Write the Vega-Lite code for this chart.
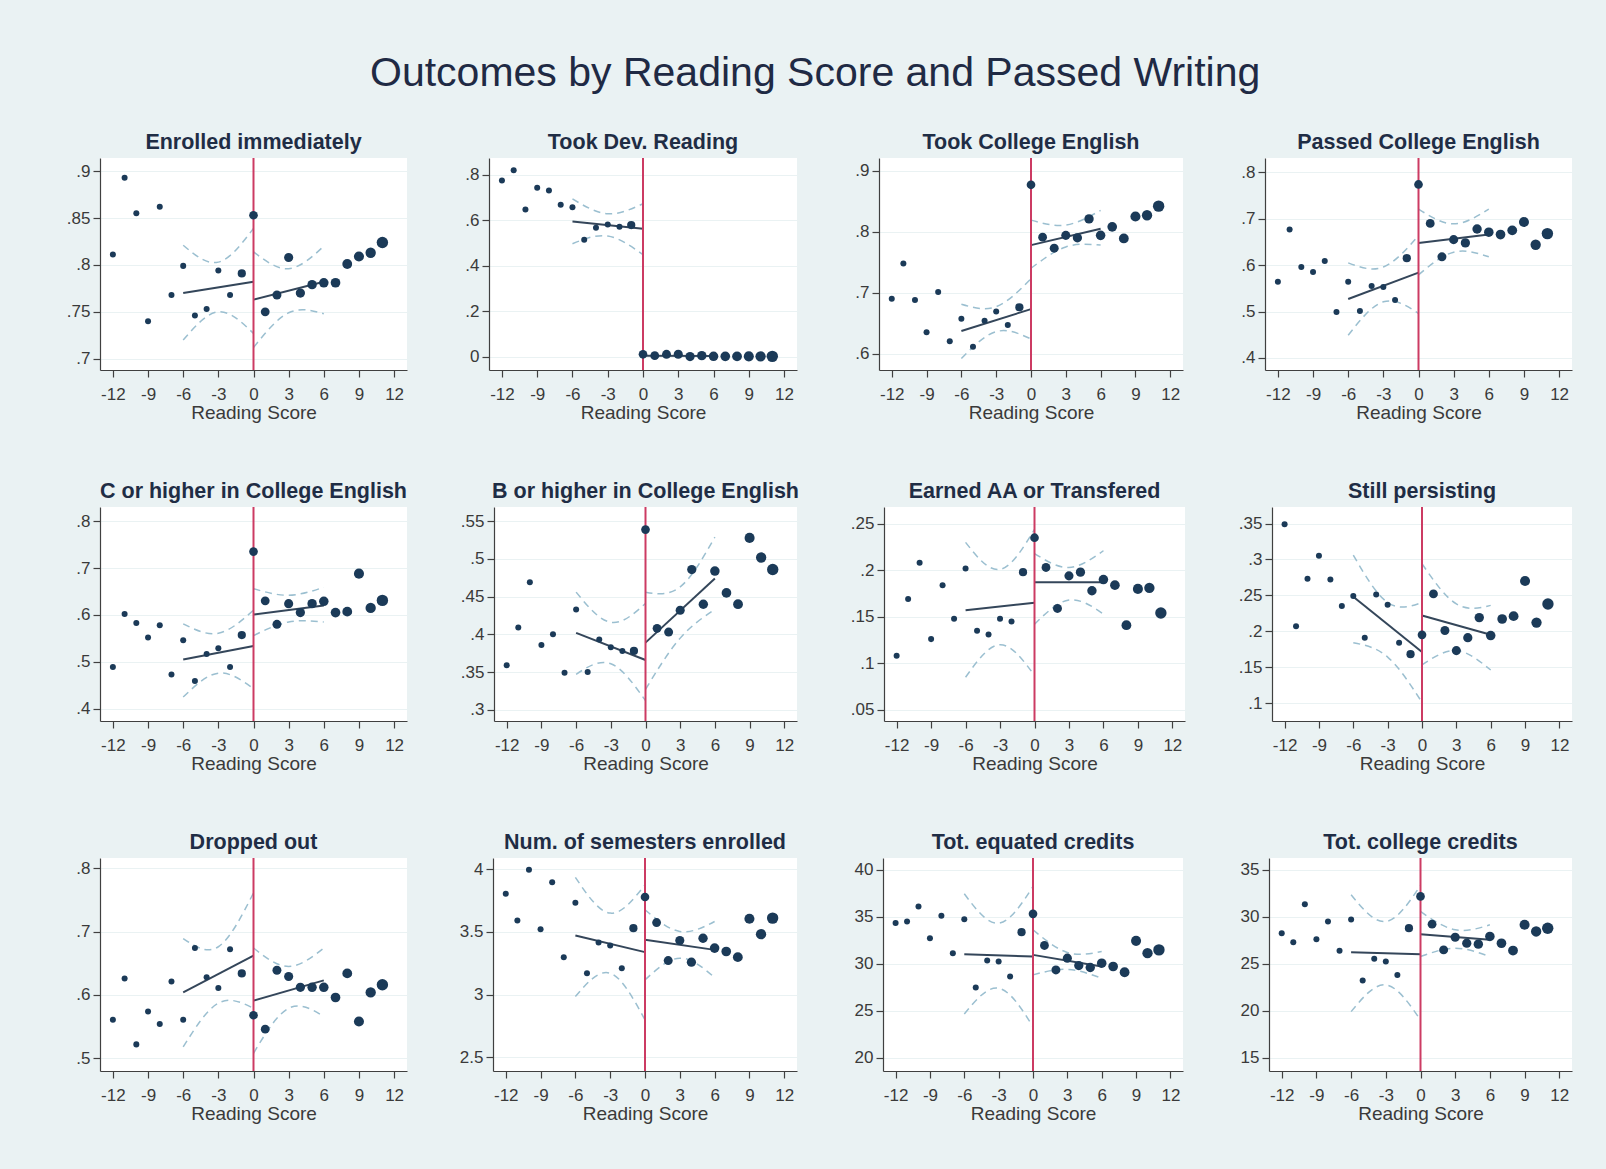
{
"$schema": "https://vega.github.io/schema/vega-lite/v6.json",
"background": "#eaf2f3",
"padding": {"left": 66, "top": 52, "right": 34, "bottom": 46},
"autosize": {"type": "pad"},
"title": {"text": "Outcomes by Reading Score and Passed Writing", "fontSize": 41, "fontWeight": "normal", "color": "#1f2a44", "frame": "bounds", "anchor": "middle", "baseline": "top", "offset": 37, "dx": -4},
"datasets": {
"points": [
{"p":1,"x":-12,"y":0.811,"n":1},{"p":1,"x":-11,"y":0.893,"n":1},{"p":1,"x":-10,"y":0.855,"n":1},{"p":1,"x":-9,"y":0.740,"n":1},{"p":1,"x":-8,"y":0.862,"n":1},{"p":1,"x":-7,"y":0.768,"n":1},{"p":1,"x":-6,"y":0.799,"n":1},{"p":1,"x":-5,"y":0.746,"n":1},{"p":1,"x":-4,"y":0.753,"n":1},{"p":1,"x":-3,"y":0.794,"n":1},{"p":1,"x":-2,"y":0.768,"n":1},{"p":1,"x":-1,"y":0.791,"n":2.2},{"p":1,"x":0,"y":0.853,"n":2.5},{"p":1,"x":1,"y":0.750,"n":2.6},{"p":1,"x":2,"y":0.768,"n":2.7},{"p":1,"x":3,"y":0.808,"n":2.8},{"p":1,"x":4,"y":0.770,"n":2.9},{"p":1,"x":5,"y":0.779,"n":3.0},{"p":1,"x":6,"y":0.781,"n":3.1},{"p":1,"x":7,"y":0.781,"n":3.2},{"p":1,"x":8,"y":0.801,"n":3.3},{"p":1,"x":9,"y":0.809,"n":3.5},{"p":1,"x":10,"y":0.813,"n":3.7},{"p":1,"x":11,"y":0.824,"n":4.6},
{"p":2,"x":-12,"y":0.774,"n":1},{"p":2,"x":-11,"y":0.819,"n":1},{"p":2,"x":-10,"y":0.647,"n":1},{"p":2,"x":-9,"y":0.742,"n":1},{"p":2,"x":-8,"y":0.730,"n":1},{"p":2,"x":-7,"y":0.667,"n":1},{"p":2,"x":-6,"y":0.657,"n":1},{"p":2,"x":-5,"y":0.514,"n":1},{"p":2,"x":-4,"y":0.566,"n":1},{"p":2,"x":-3,"y":0.581,"n":1},{"p":2,"x":-2,"y":0.571,"n":1},{"p":2,"x":-1,"y":0.578,"n":2.2},{"p":2,"x":0,"y":0.010,"n":2.5},{"p":2,"x":1,"y":0.004,"n":2.6},{"p":2,"x":2,"y":0.010,"n":2.7},{"p":2,"x":3,"y":0.010,"n":2.8},{"p":2,"x":4,"y":0.000,"n":2.9},{"p":2,"x":5,"y":0.004,"n":3.0},{"p":2,"x":6,"y":0.001,"n":3.1},{"p":2,"x":7,"y":0.001,"n":3.2},{"p":2,"x":8,"y":0.001,"n":3.3},{"p":2,"x":9,"y":0.001,"n":3.5},{"p":2,"x":10,"y":0.001,"n":3.7},{"p":2,"x":11,"y":0.001,"n":4.6},
{"p":3,"x":-12,"y":0.690,"n":1},{"p":3,"x":-11,"y":0.748,"n":1},{"p":3,"x":-10,"y":0.688,"n":1},{"p":3,"x":-9,"y":0.635,"n":1},{"p":3,"x":-8,"y":0.701,"n":1},{"p":3,"x":-7,"y":0.620,"n":1},{"p":3,"x":-6,"y":0.657,"n":1},{"p":3,"x":-5,"y":0.611,"n":1},{"p":3,"x":-4,"y":0.654,"n":1},{"p":3,"x":-3,"y":0.669,"n":1},{"p":3,"x":-2,"y":0.647,"n":1},{"p":3,"x":-1,"y":0.676,"n":2.2},{"p":3,"x":0,"y":0.877,"n":2.5},{"p":3,"x":1,"y":0.791,"n":2.6},{"p":3,"x":2,"y":0.773,"n":2.7},{"p":3,"x":3,"y":0.794,"n":2.8},{"p":3,"x":4,"y":0.790,"n":2.9},{"p":3,"x":5,"y":0.821,"n":3.0},{"p":3,"x":6,"y":0.794,"n":3.1},{"p":3,"x":7,"y":0.808,"n":3.2},{"p":3,"x":8,"y":0.789,"n":3.3},{"p":3,"x":9,"y":0.825,"n":3.5},{"p":3,"x":10,"y":0.827,"n":3.7},{"p":3,"x":11,"y":0.842,"n":4.6},
{"p":4,"x":-12,"y":0.564,"n":1},{"p":4,"x":-11,"y":0.677,"n":1},{"p":4,"x":-10,"y":0.596,"n":1},{"p":4,"x":-9,"y":0.585,"n":1},{"p":4,"x":-8,"y":0.609,"n":1},{"p":4,"x":-7,"y":0.499,"n":1},{"p":4,"x":-6,"y":0.564,"n":1},{"p":4,"x":-5,"y":0.501,"n":1},{"p":4,"x":-4,"y":0.555,"n":1},{"p":4,"x":-3,"y":0.553,"n":1},{"p":4,"x":-2,"y":0.525,"n":1},{"p":4,"x":-1,"y":0.615,"n":2.2},{"p":4,"x":0,"y":0.774,"n":2.5},{"p":4,"x":1,"y":0.690,"n":2.6},{"p":4,"x":2,"y":0.618,"n":2.7},{"p":4,"x":3,"y":0.655,"n":2.8},{"p":4,"x":4,"y":0.648,"n":2.9},{"p":4,"x":5,"y":0.678,"n":3.0},{"p":4,"x":6,"y":0.671,"n":3.1},{"p":4,"x":7,"y":0.666,"n":3.2},{"p":4,"x":8,"y":0.675,"n":3.3},{"p":4,"x":9,"y":0.693,"n":3.5},{"p":4,"x":10,"y":0.644,"n":3.7},{"p":4,"x":11,"y":0.668,"n":4.6},
{"p":5,"x":-12,"y":0.489,"n":1},{"p":5,"x":-11,"y":0.602,"n":1},{"p":5,"x":-10,"y":0.583,"n":1},{"p":5,"x":-9,"y":0.552,"n":1},{"p":5,"x":-8,"y":0.578,"n":1},{"p":5,"x":-7,"y":0.473,"n":1},{"p":5,"x":-6,"y":0.546,"n":1},{"p":5,"x":-5,"y":0.459,"n":1},{"p":5,"x":-4,"y":0.517,"n":1},{"p":5,"x":-3,"y":0.529,"n":1},{"p":5,"x":-2,"y":0.489,"n":1},{"p":5,"x":-1,"y":0.557,"n":2.2},{"p":5,"x":0,"y":0.735,"n":2.5},{"p":5,"x":1,"y":0.630,"n":2.6},{"p":5,"x":2,"y":0.580,"n":2.7},{"p":5,"x":3,"y":0.624,"n":2.8},{"p":5,"x":4,"y":0.605,"n":2.9},{"p":5,"x":5,"y":0.624,"n":3.0},{"p":5,"x":6,"y":0.629,"n":3.1},{"p":5,"x":7,"y":0.605,"n":3.2},{"p":5,"x":8,"y":0.607,"n":3.3},{"p":5,"x":9,"y":0.688,"n":3.5},{"p":5,"x":10,"y":0.615,"n":3.7},{"p":5,"x":11,"y":0.631,"n":4.6},
{"p":6,"x":-12,"y":0.359,"n":1},{"p":6,"x":-11,"y":0.409,"n":1},{"p":6,"x":-10,"y":0.469,"n":1},{"p":6,"x":-9,"y":0.386,"n":1},{"p":6,"x":-8,"y":0.400,"n":1},{"p":6,"x":-7,"y":0.349,"n":1},{"p":6,"x":-6,"y":0.433,"n":1},{"p":6,"x":-5,"y":0.350,"n":1},{"p":6,"x":-4,"y":0.393,"n":1},{"p":6,"x":-3,"y":0.383,"n":1},{"p":6,"x":-2,"y":0.378,"n":1},{"p":6,"x":-1,"y":0.378,"n":2.2},{"p":6,"x":0,"y":0.539,"n":2.5},{"p":6,"x":1,"y":0.408,"n":2.6},{"p":6,"x":2,"y":0.403,"n":2.7},{"p":6,"x":3,"y":0.432,"n":2.8},{"p":6,"x":4,"y":0.486,"n":2.9},{"p":6,"x":5,"y":0.440,"n":3.0},{"p":6,"x":6,"y":0.484,"n":3.1},{"p":6,"x":7,"y":0.455,"n":3.2},{"p":6,"x":8,"y":0.440,"n":3.3},{"p":6,"x":9,"y":0.528,"n":3.5},{"p":6,"x":10,"y":0.502,"n":3.7},{"p":6,"x":11,"y":0.486,"n":4.6},
{"p":7,"x":-12,"y":0.108,"n":1},{"p":7,"x":-11,"y":0.169,"n":1},{"p":7,"x":-10,"y":0.208,"n":1},{"p":7,"x":-9,"y":0.126,"n":1},{"p":7,"x":-8,"y":0.184,"n":1},{"p":7,"x":-7,"y":0.148,"n":1},{"p":7,"x":-6,"y":0.202,"n":1},{"p":7,"x":-5,"y":0.135,"n":1},{"p":7,"x":-4,"y":0.131,"n":1},{"p":7,"x":-3,"y":0.148,"n":1},{"p":7,"x":-2,"y":0.145,"n":1},{"p":7,"x":-1,"y":0.198,"n":2.2},{"p":7,"x":0,"y":0.235,"n":2.5},{"p":7,"x":1,"y":0.203,"n":2.6},{"p":7,"x":2,"y":0.159,"n":2.7},{"p":7,"x":3,"y":0.194,"n":2.8},{"p":7,"x":4,"y":0.198,"n":2.9},{"p":7,"x":5,"y":0.178,"n":3.0},{"p":7,"x":6,"y":0.190,"n":3.1},{"p":7,"x":7,"y":0.184,"n":3.2},{"p":7,"x":8,"y":0.141,"n":3.3},{"p":7,"x":9,"y":0.180,"n":3.5},{"p":7,"x":10,"y":0.181,"n":3.7},{"p":7,"x":11,"y":0.154,"n":4.6},
{"p":8,"x":-12,"y":0.349,"n":1},{"p":8,"x":-11,"y":0.207,"n":1},{"p":8,"x":-10,"y":0.273,"n":1},{"p":8,"x":-9,"y":0.305,"n":1},{"p":8,"x":-8,"y":0.272,"n":1},{"p":8,"x":-7,"y":0.235,"n":1},{"p":8,"x":-6,"y":0.249,"n":1},{"p":8,"x":-5,"y":0.191,"n":1},{"p":8,"x":-4,"y":0.251,"n":1},{"p":8,"x":-3,"y":0.237,"n":1},{"p":8,"x":-2,"y":0.184,"n":1},{"p":8,"x":-1,"y":0.168,"n":2.2},{"p":8,"x":0,"y":0.195,"n":2.5},{"p":8,"x":1,"y":0.252,"n":2.6},{"p":8,"x":2,"y":0.201,"n":2.7},{"p":8,"x":3,"y":0.173,"n":2.8},{"p":8,"x":4,"y":0.191,"n":2.9},{"p":8,"x":5,"y":0.219,"n":3.0},{"p":8,"x":6,"y":0.194,"n":3.1},{"p":8,"x":7,"y":0.217,"n":3.2},{"p":8,"x":8,"y":0.221,"n":3.3},{"p":8,"x":9,"y":0.270,"n":3.5},{"p":8,"x":10,"y":0.212,"n":3.7},{"p":8,"x":11,"y":0.238,"n":4.6},
{"p":9,"x":-12,"y":0.561,"n":1},{"p":9,"x":-11,"y":0.626,"n":1},{"p":9,"x":-10,"y":0.522,"n":1},{"p":9,"x":-9,"y":0.574,"n":1},{"p":9,"x":-8,"y":0.554,"n":1},{"p":9,"x":-7,"y":0.621,"n":1},{"p":9,"x":-6,"y":0.561,"n":1},{"p":9,"x":-5,"y":0.674,"n":1},{"p":9,"x":-4,"y":0.628,"n":1},{"p":9,"x":-3,"y":0.611,"n":1},{"p":9,"x":-2,"y":0.672,"n":1},{"p":9,"x":-1,"y":0.634,"n":2.2},{"p":9,"x":0,"y":0.568,"n":2.5},{"p":9,"x":1,"y":0.546,"n":2.6},{"p":9,"x":2,"y":0.639,"n":2.7},{"p":9,"x":3,"y":0.629,"n":2.8},{"p":9,"x":4,"y":0.612,"n":2.9},{"p":9,"x":5,"y":0.612,"n":3.0},{"p":9,"x":6,"y":0.612,"n":3.1},{"p":9,"x":7,"y":0.596,"n":3.2},{"p":9,"x":8,"y":0.634,"n":3.3},{"p":9,"x":9,"y":0.558,"n":3.5},{"p":9,"x":10,"y":0.604,"n":3.7},{"p":9,"x":11,"y":0.616,"n":4.6},
{"p":10,"x":-12,"y":3.803,"n":1},{"p":10,"x":-11,"y":3.590,"n":1},{"p":10,"x":-10,"y":3.995,"n":1},{"p":10,"x":-9,"y":3.521,"n":1},{"p":10,"x":-8,"y":3.894,"n":1},{"p":10,"x":-7,"y":3.298,"n":1},{"p":10,"x":-6,"y":3.731,"n":1},{"p":10,"x":-5,"y":3.170,"n":1},{"p":10,"x":-4,"y":3.415,"n":1},{"p":10,"x":-3,"y":3.391,"n":1},{"p":10,"x":-2,"y":3.210,"n":1},{"p":10,"x":-1,"y":3.529,"n":2.2},{"p":10,"x":0,"y":3.777,"n":2.5},{"p":10,"x":1,"y":3.574,"n":2.6},{"p":10,"x":2,"y":3.271,"n":2.7},{"p":10,"x":3,"y":3.431,"n":2.8},{"p":10,"x":4,"y":3.258,"n":2.9},{"p":10,"x":5,"y":3.449,"n":3.0},{"p":10,"x":6,"y":3.370,"n":3.1},{"p":10,"x":7,"y":3.343,"n":3.2},{"p":10,"x":8,"y":3.298,"n":3.3},{"p":10,"x":9,"y":3.604,"n":3.5},{"p":10,"x":10,"y":3.481,"n":3.7},{"p":10,"x":11,"y":3.609,"n":4.6},
{"p":11,"x":-12,"y":34.32,"n":1},{"p":11,"x":-11,"y":34.49,"n":1},{"p":11,"x":-10,"y":36.09,"n":1},{"p":11,"x":-9,"y":32.72,"n":1},{"p":11,"x":-8,"y":35.10,"n":1},{"p":11,"x":-7,"y":31.12,"n":1},{"p":11,"x":-6,"y":34.74,"n":1},{"p":11,"x":-5,"y":27.46,"n":1},{"p":11,"x":-4,"y":30.34,"n":1},{"p":11,"x":-3,"y":30.23,"n":1},{"p":11,"x":-2,"y":28.63,"n":1},{"p":11,"x":-1,"y":33.36,"n":2.2},{"p":11,"x":0,"y":35.31,"n":2.5},{"p":11,"x":1,"y":31.94,"n":2.6},{"p":11,"x":2,"y":29.34,"n":2.7},{"p":11,"x":3,"y":30.59,"n":2.8},{"p":11,"x":4,"y":29.80,"n":2.9},{"p":11,"x":5,"y":29.59,"n":3.0},{"p":11,"x":6,"y":30.05,"n":3.1},{"p":11,"x":7,"y":29.70,"n":3.2},{"p":11,"x":8,"y":29.09,"n":3.3},{"p":11,"x":9,"y":32.43,"n":3.5},{"p":11,"x":10,"y":31.12,"n":3.7},{"p":11,"x":11,"y":31.47,"n":4.6},
{"p":12,"x":-12,"y":28.25,"n":1},{"p":12,"x":-11,"y":27.29,"n":1},{"p":12,"x":-10,"y":31.34,"n":1},{"p":12,"x":-9,"y":27.61,"n":1},{"p":12,"x":-8,"y":29.49,"n":1},{"p":12,"x":-7,"y":26.37,"n":1},{"p":12,"x":-6,"y":29.71,"n":1},{"p":12,"x":-5,"y":23.21,"n":1},{"p":12,"x":-4,"y":25.52,"n":1},{"p":12,"x":-3,"y":25.23,"n":1},{"p":12,"x":-2,"y":23.81,"n":1},{"p":12,"x":-1,"y":28.78,"n":2.2},{"p":12,"x":0,"y":32.16,"n":2.5},{"p":12,"x":1,"y":29.21,"n":2.6},{"p":12,"x":2,"y":26.47,"n":2.7},{"p":12,"x":3,"y":27.82,"n":2.8},{"p":12,"x":4,"y":27.18,"n":2.9},{"p":12,"x":5,"y":27.08,"n":3.0},{"p":12,"x":6,"y":27.90,"n":3.1},{"p":12,"x":7,"y":27.18,"n":3.2},{"p":12,"x":8,"y":26.40,"n":3.3},{"p":12,"x":9,"y":29.14,"n":3.5},{"p":12,"x":10,"y":28.43,"n":3.7},{"p":12,"x":11,"y":28.78,"n":4.6}
],
"fits": [
{"p":1,"g":"L","x":-6,"y":0.770},{"p":1,"g":"L","x":0,"y":0.782},{"p":1,"g":"R","x":0,"y":0.763},{"p":1,"g":"R","x":6,"y":0.782},
{"p":2,"g":"L","x":-6,"y":0.594},{"p":2,"g":"L","x":0,"y":0.562},{"p":2,"g":"R","x":0,"y":0.004},{"p":2,"g":"R","x":6,"y":0.003},
{"p":3,"g":"L","x":-6,"y":0.637},{"p":3,"g":"L","x":0,"y":0.673},{"p":3,"g":"R","x":0,"y":0.778},{"p":3,"g":"R","x":6,"y":0.805},
{"p":4,"g":"L","x":-6,"y":0.527},{"p":4,"g":"L","x":0,"y":0.584},{"p":4,"g":"R","x":0,"y":0.648},{"p":4,"g":"R","x":6,"y":0.666},
{"p":5,"g":"L","x":-6,"y":0.505},{"p":5,"g":"L","x":0,"y":0.534},{"p":5,"g":"R","x":0,"y":0.601},{"p":5,"g":"R","x":6,"y":0.620},
{"p":6,"g":"L","x":-6,"y":0.402},{"p":6,"g":"L","x":0,"y":0.366},{"p":6,"g":"R","x":0,"y":0.389},{"p":6,"g":"R","x":6,"y":0.474},
{"p":7,"g":"L","x":-6,"y":0.157},{"p":7,"g":"L","x":0,"y":0.165},{"p":7,"g":"R","x":0,"y":0.187},{"p":7,"g":"R","x":6,"y":0.187},
{"p":8,"g":"L","x":-6,"y":0.248},{"p":8,"g":"L","x":0,"y":0.171},{"p":8,"g":"R","x":0,"y":0.222},{"p":8,"g":"R","x":6,"y":0.195},
{"p":9,"g":"L","x":-6,"y":0.604},{"p":9,"g":"L","x":0,"y":0.662},{"p":9,"g":"R","x":0,"y":0.591},{"p":9,"g":"R","x":6,"y":0.623},
{"p":10,"g":"L","x":-6,"y":3.471},{"p":10,"g":"L","x":0,"y":3.338},{"p":10,"g":"R","x":0,"y":3.436},{"p":10,"g":"R","x":6,"y":3.356},
{"p":11,"g":"L","x":-6,"y":31.01},{"p":11,"g":"L","x":0,"y":30.76},{"p":11,"g":"R","x":0,"y":30.94},{"p":11,"g":"R","x":6,"y":29.70},
{"p":12,"g":"L","x":-6,"y":26.23},{"p":12,"g":"L","x":0,"y":26.01},{"p":12,"g":"R","x":0,"y":28.14},{"p":12,"g":"R","x":6,"y":27.54}
],
"bands": [
{"p":1,"g":"Lhi","x":-6,"y":0.821},{"p":1,"g":"Lhi","x":-3,"y":0.803},{"p":1,"g":"Lhi","x":0,"y":0.839},{"p":1,"g":"Llo","x":-6,"y":0.720},{"p":1,"g":"Llo","x":-3,"y":0.750},{"p":1,"g":"Llo","x":0,"y":0.727},{"p":1,"g":"Rhi","x":0,"y":0.814},{"p":1,"g":"Rhi","x":3,"y":0.796},{"p":1,"g":"Rhi","x":6,"y":0.820},{"p":1,"g":"Rlo","x":0,"y":0.712},{"p":1,"g":"Rlo","x":3,"y":0.749},{"p":1,"g":"Rlo","x":6,"y":0.748},
{"p":2,"g":"Lhi","x":-6,"y":0.693},{"p":2,"g":"Lhi","x":-3,"y":0.628},{"p":2,"g":"Lhi","x":0,"y":0.672},{"p":2,"g":"Llo","x":-6,"y":0.496},{"p":2,"g":"Llo","x":-3,"y":0.530},{"p":2,"g":"Llo","x":0,"y":0.448},
{"p":3,"g":"Lhi","x":-6,"y":0.681},{"p":3,"g":"Lhi","x":-3,"y":0.677},{"p":3,"g":"Lhi","x":0,"y":0.723},{"p":3,"g":"Llo","x":-6,"y":0.592},{"p":3,"g":"Llo","x":-3,"y":0.636},{"p":3,"g":"Llo","x":0,"y":0.624},{"p":3,"g":"Rhi","x":0,"y":0.819},{"p":3,"g":"Rhi","x":3,"y":0.811},{"p":3,"g":"Rhi","x":6,"y":0.835},{"p":3,"g":"Rlo","x":0,"y":0.740},{"p":3,"g":"Rlo","x":3,"y":0.775},{"p":3,"g":"Rlo","x":6,"y":0.778},
{"p":4,"g":"Lhi","x":-6,"y":0.605},{"p":4,"g":"Lhi","x":-3,"y":0.596},{"p":4,"g":"Lhi","x":0,"y":0.664},{"p":4,"g":"Llo","x":-6,"y":0.449},{"p":4,"g":"Llo","x":-3,"y":0.521},{"p":4,"g":"Llo","x":0,"y":0.496},{"p":4,"g":"Rhi","x":0,"y":0.721},{"p":4,"g":"Rhi","x":3,"y":0.689},{"p":4,"g":"Rhi","x":6,"y":0.721},{"p":4,"g":"Rlo","x":0,"y":0.579},{"p":4,"g":"Rlo","x":3,"y":0.628},{"p":4,"g":"Rlo","x":6,"y":0.618},
{"p":5,"g":"Lhi","x":-6,"y":0.581},{"p":5,"g":"Lhi","x":-3,"y":0.561},{"p":5,"g":"Lhi","x":0,"y":0.610},{"p":5,"g":"Llo","x":-6,"y":0.425},{"p":5,"g":"Llo","x":-3,"y":0.476},{"p":5,"g":"Llo","x":0,"y":0.443},{"p":5,"g":"Rhi","x":0,"y":0.656},{"p":5,"g":"Rhi","x":3,"y":0.642},{"p":5,"g":"Rhi","x":6,"y":0.659},{"p":5,"g":"Rlo","x":0,"y":0.556},{"p":5,"g":"Rlo","x":3,"y":0.585},{"p":5,"g":"Rlo","x":6,"y":0.585},
{"p":6,"g":"Lhi","x":-6,"y":0.456},{"p":6,"g":"Lhi","x":-3,"y":0.416},{"p":6,"g":"Lhi","x":0,"y":0.441},{"p":6,"g":"Llo","x":-6,"y":0.347},{"p":6,"g":"Llo","x":-3,"y":0.361},{"p":6,"g":"Llo","x":0,"y":0.312},{"p":6,"g":"Rhi","x":0,"y":0.456},{"p":6,"g":"Rhi","x":3,"y":0.463},{"p":6,"g":"Rhi","x":6,"y":0.529},{"p":6,"g":"Rlo","x":0,"y":0.327},{"p":6,"g":"Rlo","x":3,"y":0.395},{"p":6,"g":"Rlo","x":6,"y":0.433},
{"p":7,"g":"Lhi","x":-6,"y":0.230},{"p":7,"g":"Lhi","x":-3,"y":0.201},{"p":7,"g":"Lhi","x":0,"y":0.244},{"p":7,"g":"Llo","x":-6,"y":0.085},{"p":7,"g":"Llo","x":-3,"y":0.120},{"p":7,"g":"Llo","x":0,"y":0.087},{"p":7,"g":"Rhi","x":0,"y":0.218},{"p":7,"g":"Rhi","x":3,"y":0.203},{"p":7,"g":"Rhi","x":6,"y":0.221},{"p":7,"g":"Rlo","x":0,"y":0.142},{"p":7,"g":"Rlo","x":3,"y":0.168},{"p":7,"g":"Rlo","x":6,"y":0.153},
{"p":8,"g":"Lhi","x":-6,"y":0.306},{"p":8,"g":"Lhi","x":-3,"y":0.240},{"p":8,"g":"Lhi","x":0,"y":0.240},{"p":8,"g":"Llo","x":-6,"y":0.184},{"p":8,"g":"Llo","x":-3,"y":0.164},{"p":8,"g":"Llo","x":0,"y":0.101},{"p":8,"g":"Rhi","x":0,"y":0.294},{"p":8,"g":"Rhi","x":3,"y":0.238},{"p":8,"g":"Rhi","x":6,"y":0.236},{"p":8,"g":"Rlo","x":0,"y":0.153},{"p":8,"g":"Rlo","x":3,"y":0.173},{"p":8,"g":"Rlo","x":6,"y":0.146},
{"p":9,"g":"Lhi","x":-6,"y":0.689},{"p":9,"g":"Lhi","x":-3,"y":0.676},{"p":9,"g":"Lhi","x":0,"y":0.761},{"p":9,"g":"Llo","x":-6,"y":0.518},{"p":9,"g":"Llo","x":-3,"y":0.587},{"p":9,"g":"Llo","x":0,"y":0.579},{"p":9,"g":"Rhi","x":0,"y":0.674},{"p":9,"g":"Rhi","x":3,"y":0.645},{"p":9,"g":"Rhi","x":6,"y":0.674},{"p":9,"g":"Rlo","x":0,"y":0.508},{"p":9,"g":"Rlo","x":3,"y":0.579},{"p":9,"g":"Rlo","x":6,"y":0.566},
{"p":10,"g":"Lhi","x":-6,"y":3.934},{"p":10,"g":"Lhi","x":-3,"y":3.649},{"p":10,"g":"Lhi","x":0,"y":3.875},{"p":10,"g":"Llo","x":-6,"y":2.984},{"p":10,"g":"Llo","x":-3,"y":3.170},{"p":10,"g":"Llo","x":0,"y":2.798},{"p":10,"g":"Rhi","x":0,"y":3.676},{"p":10,"g":"Rhi","x":3,"y":3.503},{"p":10,"g":"Rhi","x":6,"y":3.582},{"p":10,"g":"Rlo","x":0,"y":3.117},{"p":10,"g":"Rlo","x":3,"y":3.290},{"p":10,"g":"Rlo","x":6,"y":3.136},
{"p":11,"g":"Lhi","x":-6,"y":37.44},{"p":11,"g":"Lhi","x":-3,"y":34.32},{"p":11,"g":"Lhi","x":0,"y":38.22},{"p":11,"g":"Llo","x":-6,"y":24.65},{"p":11,"g":"Llo","x":-3,"y":27.39},{"p":11,"g":"Llo","x":0,"y":23.30},{"p":11,"g":"Rhi","x":0,"y":33.61},{"p":11,"g":"Rhi","x":3,"y":31.2},{"p":11,"g":"Rhi","x":6,"y":31.30},{"p":11,"g":"Rlo","x":0,"y":28.81},{"p":11,"g":"Rlo","x":3,"y":29.4},{"p":11,"g":"Rlo","x":6,"y":28.45},
{"p":12,"g":"Lhi","x":-6,"y":32.34},{"p":12,"g":"Lhi","x":-3,"y":29.49},{"p":12,"g":"Lhi","x":0,"y":33.33},{"p":12,"g":"Llo","x":-6,"y":19.90},{"p":12,"g":"Llo","x":-3,"y":22.74},{"p":12,"g":"Llo","x":0,"y":19.01},{"p":12,"g":"Rhi","x":0,"y":30.56},{"p":12,"g":"Rhi","x":3,"y":28.61},{"p":12,"g":"Rhi","x":6,"y":29.14},{"p":12,"g":"Rlo","x":0,"y":25.76},{"p":12,"g":"Rlo","x":3,"y":26.65},{"p":12,"g":"Rlo","x":6,"y":25.76}
]
},
"concat": [
{"hconcat": [
{"width": 307, "height": 212, "title": "Enrolled immediately", "layer": [
{"data": {"name": "bands"}, "transform": [{"filter": "datum.p == 1"}], "mark": {"type": "line", "interpolate": "natural", "strokeDash": [7, 5], "strokeWidth": 1.5, "color": "#9bbfd0", "clip": true}, "encoding": {"x": {"field": "x", "type": "quantitative", "scale": {"domain": [-13.1, 13.1], "nice": false, "zero": false}, "axis": {"values": [-12, -9, -6, -3, 0, 3, 6, 9, 12], "tickCount": 30, "title": "Reading Score", "labelOverlap": false, "labelExpr": "toString(datum.value)"}}, "y": {"field": "y", "type": "quantitative", "scale": {"domain": [0.688, 0.914], "nice": false, "zero": false}, "axis": {"values": [0.7, 0.75, 0.8, 0.85, 0.9], "tickCount": 30, "title": null, "labelOverlap": false, "labelExpr": "datum.value > 0 && datum.value < 1 ? substring(toString(datum.value), 1) : toString(datum.value)"}}, "detail": {"field": "g", "type": "nominal"}}},
{"data": {"name": "fits"}, "transform": [{"filter": "datum.p == 1"}], "mark": {"type": "line", "strokeWidth": 2, "color": "#34465a"}, "encoding": {"x": {"field": "x", "type": "quantitative"}, "y": {"field": "y", "type": "quantitative"}, "detail": {"field": "g", "type": "nominal"}}},
{"data": {"values": [{}]}, "mark": {"type": "rule", "color": "#cc3b63", "strokeWidth": 2}, "encoding": {"x": {"datum": 0, "type": "quantitative"}}},
{"data": {"name": "points"}, "transform": [{"filter": "datum.p == 1"}], "mark": {"type": "circle", "opacity": 1, "color": "#1b3a58"}, "encoding": {"x": {"field": "x", "type": "quantitative"}, "y": {"field": "y", "type": "quantitative"}, "size": {"field": "n", "type": "quantitative", "scale": {"domain": [0, 4.6], "range": [10, 130]}, "legend": null}}}
]},
{"width": 308, "height": 212, "title": "Took Dev. Reading", "layer": [
{"data": {"name": "bands"}, "transform": [{"filter": "datum.p == 2"}], "mark": {"type": "line", "interpolate": "natural", "strokeDash": [7, 5], "strokeWidth": 1.5, "color": "#9bbfd0", "clip": true}, "encoding": {"x": {"field": "x", "type": "quantitative", "scale": {"domain": [-13.1, 13.1], "nice": false, "zero": false}, "axis": {"values": [-12, -9, -6, -3, 0, 3, 6, 9, 12], "tickCount": 30, "title": "Reading Score", "labelOverlap": false, "labelExpr": "toString(datum.value)"}}, "y": {"field": "y", "type": "quantitative", "scale": {"domain": [-0.059, 0.873], "nice": false, "zero": false}, "axis": {"values": [0, 0.2, 0.4, 0.6, 0.8], "tickCount": 30, "title": null, "labelOverlap": false, "labelExpr": "datum.value > 0 && datum.value < 1 ? substring(toString(datum.value), 1) : toString(datum.value)"}}, "detail": {"field": "g", "type": "nominal"}}},
{"data": {"name": "fits"}, "transform": [{"filter": "datum.p == 2"}], "mark": {"type": "line", "strokeWidth": 2, "color": "#34465a"}, "encoding": {"x": {"field": "x", "type": "quantitative"}, "y": {"field": "y", "type": "quantitative"}, "detail": {"field": "g", "type": "nominal"}}},
{"data": {"values": [{}]}, "mark": {"type": "rule", "color": "#cc3b63", "strokeWidth": 2}, "encoding": {"x": {"datum": 0, "type": "quantitative"}}},
{"data": {"name": "points"}, "transform": [{"filter": "datum.p == 2"}], "mark": {"type": "circle", "opacity": 1, "color": "#1b3a58"}, "encoding": {"x": {"field": "x", "type": "quantitative"}, "y": {"field": "y", "type": "quantitative"}, "size": {"field": "n", "type": "quantitative", "scale": {"domain": [0, 4.6], "range": [10, 130]}, "legend": null}}}
]},
{"width": 304, "height": 212, "title": "Took College English", "layer": [
{"data": {"name": "bands"}, "transform": [{"filter": "datum.p == 3"}], "mark": {"type": "line", "interpolate": "natural", "strokeDash": [7, 5], "strokeWidth": 1.5, "color": "#9bbfd0", "clip": true}, "encoding": {"x": {"field": "x", "type": "quantitative", "scale": {"domain": [-13.1, 13.1], "nice": false, "zero": false}, "axis": {"values": [-12, -9, -6, -3, 0, 3, 6, 9, 12], "tickCount": 30, "title": "Reading Score", "labelOverlap": false, "labelExpr": "toString(datum.value)"}}, "y": {"field": "y", "type": "quantitative", "scale": {"domain": [0.573, 0.921], "nice": false, "zero": false}, "axis": {"values": [0.6, 0.7, 0.8, 0.9], "tickCount": 30, "title": null, "labelOverlap": false, "labelExpr": "datum.value > 0 && datum.value < 1 ? substring(toString(datum.value), 1) : toString(datum.value)"}}, "detail": {"field": "g", "type": "nominal"}}},
{"data": {"name": "fits"}, "transform": [{"filter": "datum.p == 3"}], "mark": {"type": "line", "strokeWidth": 2, "color": "#34465a"}, "encoding": {"x": {"field": "x", "type": "quantitative"}, "y": {"field": "y", "type": "quantitative"}, "detail": {"field": "g", "type": "nominal"}}},
{"data": {"values": [{}]}, "mark": {"type": "rule", "color": "#cc3b63", "strokeWidth": 2}, "encoding": {"x": {"datum": 0, "type": "quantitative"}}},
{"data": {"name": "points"}, "transform": [{"filter": "datum.p == 3"}], "mark": {"type": "circle", "opacity": 1, "color": "#1b3a58"}, "encoding": {"x": {"field": "x", "type": "quantitative"}, "y": {"field": "y", "type": "quantitative"}, "size": {"field": "n", "type": "quantitative", "scale": {"domain": [0, 4.6], "range": [10, 130]}, "legend": null}}}
]},
{"width": 307, "height": 212, "title": "Passed College English", "layer": [
{"data": {"name": "bands"}, "transform": [{"filter": "datum.p == 4"}], "mark": {"type": "line", "interpolate": "natural", "strokeDash": [7, 5], "strokeWidth": 1.5, "color": "#9bbfd0", "clip": true}, "encoding": {"x": {"field": "x", "type": "quantitative", "scale": {"domain": [-13.1, 13.1], "nice": false, "zero": false}, "axis": {"values": [-12, -9, -6, -3, 0, 3, 6, 9, 12], "tickCount": 30, "title": "Reading Score", "labelOverlap": false, "labelExpr": "toString(datum.value)"}}, "y": {"field": "y", "type": "quantitative", "scale": {"domain": [0.374, 0.831], "nice": false, "zero": false}, "axis": {"values": [0.4, 0.5, 0.6, 0.7, 0.8], "tickCount": 30, "title": null, "labelOverlap": false, "labelExpr": "datum.value > 0 && datum.value < 1 ? substring(toString(datum.value), 1) : toString(datum.value)"}}, "detail": {"field": "g", "type": "nominal"}}},
{"data": {"name": "fits"}, "transform": [{"filter": "datum.p == 4"}], "mark": {"type": "line", "strokeWidth": 2, "color": "#34465a"}, "encoding": {"x": {"field": "x", "type": "quantitative"}, "y": {"field": "y", "type": "quantitative"}, "detail": {"field": "g", "type": "nominal"}}},
{"data": {"values": [{}]}, "mark": {"type": "rule", "color": "#cc3b63", "strokeWidth": 2}, "encoding": {"x": {"datum": 0, "type": "quantitative"}}},
{"data": {"name": "points"}, "transform": [{"filter": "datum.p == 4"}], "mark": {"type": "circle", "opacity": 1, "color": "#1b3a58"}, "encoding": {"x": {"field": "x", "type": "quantitative"}, "y": {"field": "y", "type": "quantitative"}, "size": {"field": "n", "type": "quantitative", "scale": {"domain": [0, 4.6], "range": [10, 130]}, "legend": null}}}
]}
], "spacing": 82, "bounds": "flush", "resolve": {"scale": {"x": "independent", "y": "independent"}}},
{"hconcat": [
{"width": 307, "height": 214, "title": "C or higher in College English", "layer": [
{"data": {"name": "bands"}, "transform": [{"filter": "datum.p == 5"}], "mark": {"type": "line", "interpolate": "natural", "strokeDash": [7, 5], "strokeWidth": 1.5, "color": "#9bbfd0", "clip": true}, "encoding": {"x": {"field": "x", "type": "quantitative", "scale": {"domain": [-13.1, 13.1], "nice": false, "zero": false}, "axis": {"values": [-12, -9, -6, -3, 0, 3, 6, 9, 12], "tickCount": 30, "title": "Reading Score", "labelOverlap": false, "labelExpr": "toString(datum.value)"}}, "y": {"field": "y", "type": "quantitative", "scale": {"domain": [0.374, 0.830], "nice": false, "zero": false}, "axis": {"values": [0.4, 0.5, 0.6, 0.7, 0.8], "tickCount": 30, "title": null, "labelOverlap": false, "labelExpr": "datum.value > 0 && datum.value < 1 ? substring(toString(datum.value), 1) : toString(datum.value)"}}, "detail": {"field": "g", "type": "nominal"}}},
{"data": {"name": "fits"}, "transform": [{"filter": "datum.p == 5"}], "mark": {"type": "line", "strokeWidth": 2, "color": "#34465a"}, "encoding": {"x": {"field": "x", "type": "quantitative"}, "y": {"field": "y", "type": "quantitative"}, "detail": {"field": "g", "type": "nominal"}}},
{"data": {"values": [{}]}, "mark": {"type": "rule", "color": "#cc3b63", "strokeWidth": 2}, "encoding": {"x": {"datum": 0, "type": "quantitative"}}},
{"data": {"name": "points"}, "transform": [{"filter": "datum.p == 5"}], "mark": {"type": "circle", "opacity": 1, "color": "#1b3a58"}, "encoding": {"x": {"field": "x", "type": "quantitative"}, "y": {"field": "y", "type": "quantitative"}, "size": {"field": "n", "type": "quantitative", "scale": {"domain": [0, 4.6], "range": [10, 130]}, "legend": null}}}
]},
{"width": 303, "height": 214, "title": "B or higher in College English", "layer": [
{"data": {"name": "bands"}, "transform": [{"filter": "datum.p == 6"}], "mark": {"type": "line", "interpolate": "natural", "strokeDash": [7, 5], "strokeWidth": 1.5, "color": "#9bbfd0", "clip": true}, "encoding": {"x": {"field": "x", "type": "quantitative", "scale": {"domain": [-13.1, 13.1], "nice": false, "zero": false}, "axis": {"values": [-12, -9, -6, -3, 0, 3, 6, 9, 12], "tickCount": 30, "title": "Reading Score", "labelOverlap": false, "labelExpr": "toString(datum.value)"}}, "y": {"field": "y", "type": "quantitative", "scale": {"domain": [0.285, 0.569], "nice": false, "zero": false}, "axis": {"values": [0.3, 0.35, 0.4, 0.45, 0.5, 0.55], "tickCount": 30, "title": null, "labelOverlap": false, "labelExpr": "datum.value > 0 && datum.value < 1 ? substring(toString(datum.value), 1) : toString(datum.value)"}}, "detail": {"field": "g", "type": "nominal"}}},
{"data": {"name": "fits"}, "transform": [{"filter": "datum.p == 6"}], "mark": {"type": "line", "strokeWidth": 2, "color": "#34465a"}, "encoding": {"x": {"field": "x", "type": "quantitative"}, "y": {"field": "y", "type": "quantitative"}, "detail": {"field": "g", "type": "nominal"}}},
{"data": {"values": [{}]}, "mark": {"type": "rule", "color": "#cc3b63", "strokeWidth": 2}, "encoding": {"x": {"datum": 0, "type": "quantitative"}}},
{"data": {"name": "points"}, "transform": [{"filter": "datum.p == 6"}], "mark": {"type": "circle", "opacity": 1, "color": "#1b3a58"}, "encoding": {"x": {"field": "x", "type": "quantitative"}, "y": {"field": "y", "type": "quantitative"}, "size": {"field": "n", "type": "quantitative", "scale": {"domain": [0, 4.6], "range": [10, 130]}, "legend": null}}}
]},
{"width": 301, "height": 214, "title": "Earned AA or Transfered", "layer": [
{"data": {"name": "bands"}, "transform": [{"filter": "datum.p == 7"}], "mark": {"type": "line", "interpolate": "natural", "strokeDash": [7, 5], "strokeWidth": 1.5, "color": "#9bbfd0", "clip": true}, "encoding": {"x": {"field": "x", "type": "quantitative", "scale": {"domain": [-13.1, 13.1], "nice": false, "zero": false}, "axis": {"values": [-12, -9, -6, -3, 0, 3, 6, 9, 12], "tickCount": 30, "title": "Reading Score", "labelOverlap": false, "labelExpr": "toString(datum.value)"}}, "y": {"field": "y", "type": "quantitative", "scale": {"domain": [0.038, 0.268], "nice": false, "zero": false}, "axis": {"values": [0.05, 0.1, 0.15, 0.2, 0.25], "tickCount": 30, "title": null, "labelOverlap": false, "labelExpr": "datum.value > 0 && datum.value < 1 ? substring(toString(datum.value), 1) : toString(datum.value)"}}, "detail": {"field": "g", "type": "nominal"}}},
{"data": {"name": "fits"}, "transform": [{"filter": "datum.p == 7"}], "mark": {"type": "line", "strokeWidth": 2, "color": "#34465a"}, "encoding": {"x": {"field": "x", "type": "quantitative"}, "y": {"field": "y", "type": "quantitative"}, "detail": {"field": "g", "type": "nominal"}}},
{"data": {"values": [{}]}, "mark": {"type": "rule", "color": "#cc3b63", "strokeWidth": 2}, "encoding": {"x": {"datum": 0, "type": "quantitative"}}},
{"data": {"name": "points"}, "transform": [{"filter": "datum.p == 7"}], "mark": {"type": "circle", "opacity": 1, "color": "#1b3a58"}, "encoding": {"x": {"field": "x", "type": "quantitative"}, "y": {"field": "y", "type": "quantitative"}, "size": {"field": "n", "type": "quantitative", "scale": {"domain": [0, 4.6], "range": [10, 130]}, "legend": null}}}
]},
{"width": 300, "height": 214, "title": "Still persisting", "layer": [
{"data": {"name": "bands"}, "transform": [{"filter": "datum.p == 8"}], "mark": {"type": "line", "interpolate": "natural", "strokeDash": [7, 5], "strokeWidth": 1.5, "color": "#9bbfd0", "clip": true}, "encoding": {"x": {"field": "x", "type": "quantitative", "scale": {"domain": [-13.1, 13.1], "nice": false, "zero": false}, "axis": {"values": [-12, -9, -6, -3, 0, 3, 6, 9, 12], "tickCount": 30, "title": "Reading Score", "labelOverlap": false, "labelExpr": "toString(datum.value)"}}, "y": {"field": "y", "type": "quantitative", "scale": {"domain": [0.075, 0.373], "nice": false, "zero": false}, "axis": {"values": [0.1, 0.15, 0.2, 0.25, 0.3, 0.35], "tickCount": 30, "title": null, "labelOverlap": false, "labelExpr": "datum.value > 0 && datum.value < 1 ? substring(toString(datum.value), 1) : toString(datum.value)"}}, "detail": {"field": "g", "type": "nominal"}}},
{"data": {"name": "fits"}, "transform": [{"filter": "datum.p == 8"}], "mark": {"type": "line", "strokeWidth": 2, "color": "#34465a"}, "encoding": {"x": {"field": "x", "type": "quantitative"}, "y": {"field": "y", "type": "quantitative"}, "detail": {"field": "g", "type": "nominal"}}},
{"data": {"values": [{}]}, "mark": {"type": "rule", "color": "#cc3b63", "strokeWidth": 2}, "encoding": {"x": {"datum": 0, "type": "quantitative"}}},
{"data": {"name": "points"}, "transform": [{"filter": "datum.p == 8"}], "mark": {"type": "circle", "opacity": 1, "color": "#1b3a58"}, "encoding": {"x": {"field": "x", "type": "quantitative"}, "y": {"field": "y", "type": "quantitative"}, "size": {"field": "n", "type": "quantitative", "scale": {"domain": [0, 4.6], "range": [10, 130]}, "legend": null}}}
]}
], "spacing": 87, "bounds": "flush", "resolve": {"scale": {"x": "independent", "y": "independent"}}},
{"hconcat": [
{"width": 307, "height": 213, "title": "Dropped out", "layer": [
{"data": {"name": "bands"}, "transform": [{"filter": "datum.p == 9"}], "mark": {"type": "line", "interpolate": "natural", "strokeDash": [7, 5], "strokeWidth": 1.5, "color": "#9bbfd0", "clip": true}, "encoding": {"x": {"field": "x", "type": "quantitative", "scale": {"domain": [-13.1, 13.1], "nice": false, "zero": false}, "axis": {"values": [-12, -9, -6, -3, 0, 3, 6, 9, 12], "tickCount": 30, "title": "Reading Score", "labelOverlap": false, "labelExpr": "toString(datum.value)"}}, "y": {"field": "y", "type": "quantitative", "scale": {"domain": [0.480, 0.816], "nice": false, "zero": false}, "axis": {"values": [0.5, 0.6, 0.7, 0.8], "tickCount": 30, "title": null, "labelOverlap": false, "labelExpr": "datum.value > 0 && datum.value < 1 ? substring(toString(datum.value), 1) : toString(datum.value)"}}, "detail": {"field": "g", "type": "nominal"}}},
{"data": {"name": "fits"}, "transform": [{"filter": "datum.p == 9"}], "mark": {"type": "line", "strokeWidth": 2, "color": "#34465a"}, "encoding": {"x": {"field": "x", "type": "quantitative"}, "y": {"field": "y", "type": "quantitative"}, "detail": {"field": "g", "type": "nominal"}}},
{"data": {"values": [{}]}, "mark": {"type": "rule", "color": "#cc3b63", "strokeWidth": 2}, "encoding": {"x": {"datum": 0, "type": "quantitative"}}},
{"data": {"name": "points"}, "transform": [{"filter": "datum.p == 9"}], "mark": {"type": "circle", "opacity": 1, "color": "#1b3a58"}, "encoding": {"x": {"field": "x", "type": "quantitative"}, "y": {"field": "y", "type": "quantitative"}, "size": {"field": "n", "type": "quantitative", "scale": {"domain": [0, 4.6], "range": [10, 130]}, "legend": null}}}
]},
{"width": 304, "height": 213, "title": "Num. of semesters enrolled", "layer": [
{"data": {"name": "bands"}, "transform": [{"filter": "datum.p == 10"}], "mark": {"type": "line", "interpolate": "natural", "strokeDash": [7, 5], "strokeWidth": 1.5, "color": "#9bbfd0", "clip": true}, "encoding": {"x": {"field": "x", "type": "quantitative", "scale": {"domain": [-13.1, 13.1], "nice": false, "zero": false}, "axis": {"values": [-12, -9, -6, -3, 0, 3, 6, 9, 12], "tickCount": 30, "title": "Reading Score", "labelOverlap": false, "labelExpr": "toString(datum.value)"}}, "y": {"field": "y", "type": "quantitative", "scale": {"domain": [2.391, 4.088], "nice": false, "zero": false}, "axis": {"values": [2.5, 3, 3.5, 4], "tickCount": 30, "title": null, "labelOverlap": false, "labelExpr": "datum.value > 0 && datum.value < 1 ? substring(toString(datum.value), 1) : toString(datum.value)"}}, "detail": {"field": "g", "type": "nominal"}}},
{"data": {"name": "fits"}, "transform": [{"filter": "datum.p == 10"}], "mark": {"type": "line", "strokeWidth": 2, "color": "#34465a"}, "encoding": {"x": {"field": "x", "type": "quantitative"}, "y": {"field": "y", "type": "quantitative"}, "detail": {"field": "g", "type": "nominal"}}},
{"data": {"values": [{}]}, "mark": {"type": "rule", "color": "#cc3b63", "strokeWidth": 2}, "encoding": {"x": {"datum": 0, "type": "quantitative"}}},
{"data": {"name": "points"}, "transform": [{"filter": "datum.p == 10"}], "mark": {"type": "circle", "opacity": 1, "color": "#1b3a58"}, "encoding": {"x": {"field": "x", "type": "quantitative"}, "y": {"field": "y", "type": "quantitative"}, "size": {"field": "n", "type": "quantitative", "scale": {"domain": [0, 4.6], "range": [10, 130]}, "legend": null}}}
]},
{"width": 300, "height": 213, "title": "Tot. equated credits", "layer": [
{"data": {"name": "bands"}, "transform": [{"filter": "datum.p == 11"}], "mark": {"type": "line", "interpolate": "natural", "strokeDash": [7, 5], "strokeWidth": 1.5, "color": "#9bbfd0", "clip": true}, "encoding": {"x": {"field": "x", "type": "quantitative", "scale": {"domain": [-13.1, 13.1], "nice": false, "zero": false}, "axis": {"values": [-12, -9, -6, -3, 0, 3, 6, 9, 12], "tickCount": 30, "title": "Reading Score", "labelOverlap": false, "labelExpr": "toString(datum.value)"}}, "y": {"field": "y", "type": "quantitative", "scale": {"domain": [18.58, 41.25], "nice": false, "zero": false}, "axis": {"values": [20, 25, 30, 35, 40], "tickCount": 30, "title": null, "labelOverlap": false, "labelExpr": "datum.value > 0 && datum.value < 1 ? substring(toString(datum.value), 1) : toString(datum.value)"}}, "detail": {"field": "g", "type": "nominal"}}},
{"data": {"name": "fits"}, "transform": [{"filter": "datum.p == 11"}], "mark": {"type": "line", "strokeWidth": 2, "color": "#34465a"}, "encoding": {"x": {"field": "x", "type": "quantitative"}, "y": {"field": "y", "type": "quantitative"}, "detail": {"field": "g", "type": "nominal"}}},
{"data": {"values": [{}]}, "mark": {"type": "rule", "color": "#cc3b63", "strokeWidth": 2}, "encoding": {"x": {"datum": 0, "type": "quantitative"}}},
{"data": {"name": "points"}, "transform": [{"filter": "datum.p == 11"}], "mark": {"type": "circle", "opacity": 1, "color": "#1b3a58"}, "encoding": {"x": {"field": "x", "type": "quantitative"}, "y": {"field": "y", "type": "quantitative"}, "size": {"field": "n", "type": "quantitative", "scale": {"domain": [0, 4.6], "range": [10, 130]}, "legend": null}}}
]},
{"width": 303, "height": 213, "title": "Tot. college credits", "layer": [
{"data": {"name": "bands"}, "transform": [{"filter": "datum.p == 12"}], "mark": {"type": "line", "interpolate": "natural", "strokeDash": [7, 5], "strokeWidth": 1.5, "color": "#9bbfd0", "clip": true}, "encoding": {"x": {"field": "x", "type": "quantitative", "scale": {"domain": [-13.1, 13.1], "nice": false, "zero": false}, "axis": {"values": [-12, -9, -6, -3, 0, 3, 6, 9, 12], "tickCount": 30, "title": "Reading Score", "labelOverlap": false, "labelExpr": "toString(datum.value)"}}, "y": {"field": "y", "type": "quantitative", "scale": {"domain": [13.58, 36.25], "nice": false, "zero": false}, "axis": {"values": [15, 20, 25, 30, 35], "tickCount": 30, "title": null, "labelOverlap": false, "labelExpr": "datum.value > 0 && datum.value < 1 ? substring(toString(datum.value), 1) : toString(datum.value)"}}, "detail": {"field": "g", "type": "nominal"}}},
{"data": {"name": "fits"}, "transform": [{"filter": "datum.p == 12"}], "mark": {"type": "line", "strokeWidth": 2, "color": "#34465a"}, "encoding": {"x": {"field": "x", "type": "quantitative"}, "y": {"field": "y", "type": "quantitative"}, "detail": {"field": "g", "type": "nominal"}}},
{"data": {"values": [{}]}, "mark": {"type": "rule", "color": "#cc3b63", "strokeWidth": 2}, "encoding": {"x": {"datum": 0, "type": "quantitative"}}},
{"data": {"name": "points"}, "transform": [{"filter": "datum.p == 12"}], "mark": {"type": "circle", "opacity": 1, "color": "#1b3a58"}, "encoding": {"x": {"field": "x", "type": "quantitative"}, "y": {"field": "y", "type": "quantitative"}, "size": {"field": "n", "type": "quantitative", "scale": {"domain": [0, 4.6], "range": [10, 130]}, "legend": null}}}
]}
], "spacing": 86, "bounds": "flush", "resolve": {"scale": {"x": "independent", "y": "independent"}}}
],
"columns": 1,
"spacing": 58,
"align": "none",
"resolve": {"scale": {"x": "independent", "y": "independent"}},
"config": {
"font": "Liberation Sans",
"view": {"fill": "white", "stroke": null},
"axis": {"domainColor": "#404040", "domainWidth": 1.2, "tickColor": "#404040", "tickWidth": 1.2, "tickSize": 7, "labelColor": "#3a3a3a", "labelFontSize": 17, "titleColor": "#3a3a3a", "titleFontSize": 19, "titleFontWeight": "normal", "gridColor": "#eaf2f3", "gridWidth": 1.2, "labelOverlap": false, "labelFlush": false, "labelBound": false},
"axisX": {"grid": false, "labelPadding": 9, "titlePadding": 1},
"axisY": {"grid": true, "labelPadding": 3},
"title": {"fontSize": 21.5, "fontWeight": "bold", "color": "#1f2d45", "frame": "group", "anchor": "middle", "baseline": "bottom", "offset": 4}
}
}
